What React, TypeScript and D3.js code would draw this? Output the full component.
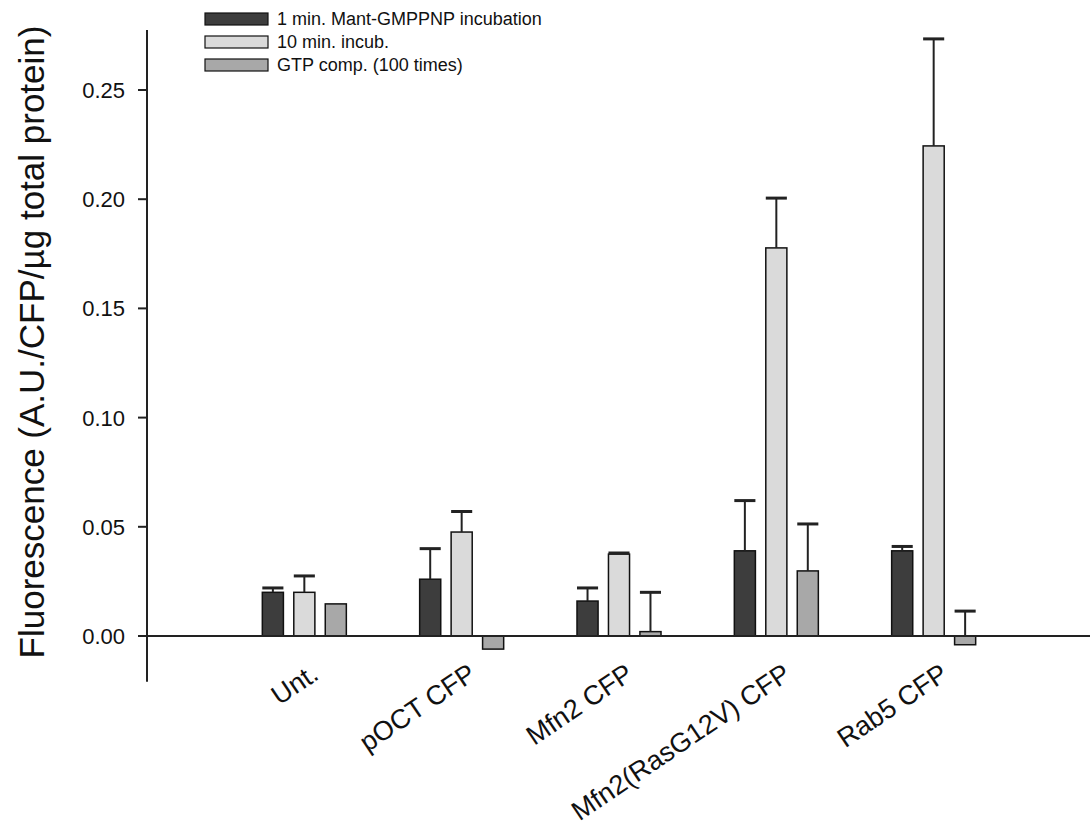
import React, { useEffect, useRef } from 'react';
import * as d3 from 'd3';

// groups on the x axis
const categories = ['Unt.', 'pOCT CFP', 'Mfn2 CFP', 'Mfn2(RasG12V) CFP', 'Rab5 CFP'];

// series (means) and their upper error (SEM)
const oneMin = [0.020, 0.026, 0.016, 0.039, 0.039];
const oneMinErr = [0.002, 0.014, 0.006, 0.023, 0.002];
const tenMin = [0.020, 0.0476, 0.0375, 0.1777, 0.2244];
const tenMinErr = [0.0075, 0.0094, 0.0005, 0.0228, 0.049];
const gtpComp = [0.0147, -0.006, 0.002, 0.0298, -0.004];
const gtpCompErr = [0, 0, 0.018, 0.0215, 0.0154];

const seriesNames = ['1 min. Mant-GMPPNP incubation', '10 min. incub.', 'GTP comp. (100 times)'];
const yTicks = [0, 0.05, 0.1, 0.15, 0.2, 0.25];
const yLabel = 'Fluorescence (A.U./CFP/\u00b5g total protein)';

const fills = ['#3d3d3d', '#dadada', '#a8a8a8'];
const FONT = '"Liberation Sans", Arial, sans-serif';

const App = () => {
  const svgRef = useRef<SVGSVGElement>(null);

  useEffect(() => {
    const width = 1090;
    const svg = d3.select(svgRef.current);
    svg.selectAll('*').remove();

    const y = d3.scaleLinear().domain([0, 0.25]).range([636, 90]);
    const x = d3.scaleLinear().domain([0, 6]).range([147, 1091]);
    const yMin = -0.021;
    const yMax = 0.2775;

    const barW = x(0.134) - x(0);
    const offsets = [-0.2, 0, 0.2];

    const series = [
      { vals: oneMin, errs: oneMinErr },
      { vals: tenMin, errs: tenMinErr },
      { vals: gtpComp, errs: gtpCompErr },
    ];

    // bars + error bars (upper only)
    series.forEach((s, si) => {
      const g = svg.append('g');
      s.vals.forEach((v, i) => {
        const cx = x(i + 1 + offsets[si]);
        g.append('rect')
          .attr('x', cx - barW / 2)
          .attr('y', y(Math.max(v, 0)))
          .attr('width', barW)
          .attr('height', Math.abs(y(v) - y(0)))
          .attr('fill', fills[si])
          .attr('stroke', '#111')
          .attr('stroke-width', 1.5);
        const e = s.errs[i];
        if (e > 0) {
          const top = v + e;
          g.append('line')
            .attr('x1', cx).attr('x2', cx)
            .attr('y1', y(Math.max(v, 0))).attr('y2', y(top))
            .attr('stroke', '#222').attr('stroke-width', 2);
          g.append('line')
            .attr('x1', cx - barW / 2).attr('x2', cx + barW / 2)
            .attr('y1', y(top)).attr('y2', y(top))
            .attr('stroke', '#222').attr('stroke-width', 3);
        }
      });
    });

    // x axis line at zero
    svg.append('line')
      .attr('x1', x(0)).attr('x2', width)
      .attr('y1', y(0)).attr('y2', y(0))
      .attr('stroke', '#222').attr('stroke-width', 2);

    // y axis
    svg.append('line')
      .attr('x1', x(0)).attr('x2', x(0))
      .attr('y1', y(yMin)).attr('y2', y(yMax))
      .attr('stroke', '#222').attr('stroke-width', 2);

    yTicks.forEach(t => {
      svg.append('line')
        .attr('x1', x(0) - 9).attr('x2', x(0))
        .attr('y1', y(t)).attr('y2', y(t))
        .attr('stroke', '#222').attr('stroke-width', 2);
      svg.append('text')
        .attr('x', x(0) - 22)
        .attr('y', y(t))
        .attr('dy', '0.36em')
        .attr('text-anchor', 'end')
        .style('font-family', FONT)
        .style('font-size', '22px')
        .attr('fill', '#111')
        .text(t.toFixed(2));
    });

    // y axis title
    svg.append('text')
      .attr('transform', 'translate(44, 342) rotate(-90)')
      .attr('text-anchor', 'middle')
      .style('font-family', FONT)
      .style('font-size', '35px')
      .attr('fill', '#111')
      .text(yLabel);

    // category labels, slanted
    categories.forEach((c, i) => {
      svg.append('text')
        .attr('transform', `translate(${x(i + 1) + 16}, 678) rotate(-34)`)
        .attr('text-anchor', 'end')
        .style('font-family', FONT)
        .style('font-size', '27px')
        .attr('fill', '#111')
        .text(c);
    });

    // legend
    seriesNames.forEach((n, i) => {
      const ly = 19 + i * 23;
      svg.append('rect')
        .attr('x', 205).attr('y', ly - 6)
        .attr('width', 63).attr('height', 12)
        .attr('fill', fills[i])
        .attr('stroke', '#111').attr('stroke-width', 1.2);
      svg.append('text')
        .attr('x', 277).attr('y', ly)
        .attr('dy', '0.35em')
        .style('font-family', FONT)
        .style('font-size', '18px')
        .attr('fill', '#111')
        .text(n);
    });
  }, []);

  return (
    <svg
      ref={svgRef}
      width={1090}
      height={840}
      style={{ position: 'absolute', left: 0, top: 0, background: '#fff' }}
    />
  );
};

export default App;
